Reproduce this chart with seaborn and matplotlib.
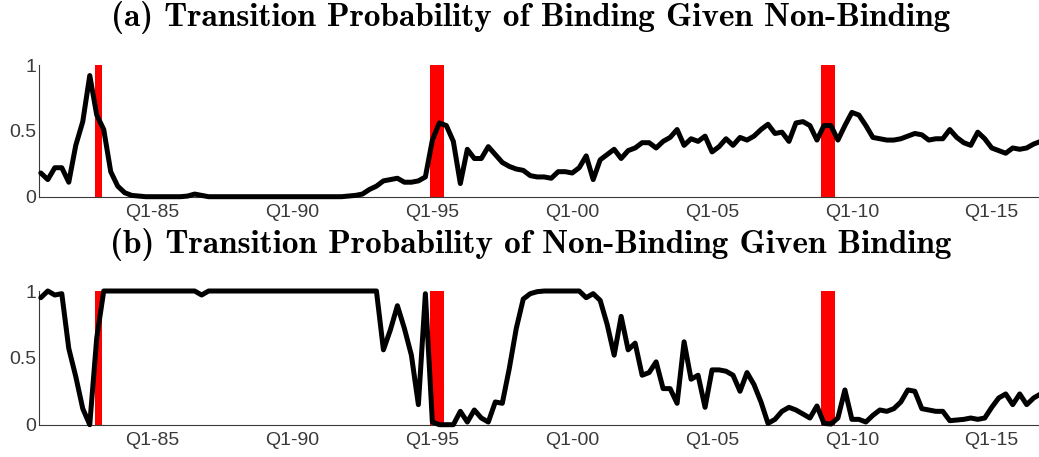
import numpy as np
import pandas as pd
import matplotlib
matplotlib.use("Agg")
import matplotlib.pyplot as plt
import seaborn as sns

# ---- data ----
quarters = pd.period_range("1981Q1", "2016Q4", freq="Q")

binding_given_nonbinding = [
    0.18, 0.13, 0.22, 0.22,   # 1981
    0.11, 0.39, 0.57, 0.92,   # 1982
    0.62, 0.51, 0.19, 0.08,   # 1983
    0.03, 0.01, 0.005, 0.0,   # 1984
    0.0, 0.0, 0.0, 0.0,       # 1985
    0.0, 0.005, 0.02, 0.01,   # 1986
    0.0, 0.0, 0.0, 0.0,       # 1987
    0.0, 0.0, 0.0, 0.0,       # 1988
    0.0, 0.0, 0.0, 0.0,       # 1989
    0.0, 0.0, 0.0, 0.0,       # 1990
    0.0, 0.0, 0.0, 0.0,       # 1991
    0.005, 0.01, 0.02, 0.055, # 1992
    0.08, 0.12, 0.13, 0.14,   # 1993
    0.11, 0.11, 0.12, 0.15,   # 1994
    0.43, 0.56, 0.54, 0.42,   # 1995
    0.10, 0.36, 0.29, 0.29,   # 1996
    0.38, 0.32, 0.26, 0.23,   # 1997
    0.21, 0.20, 0.16, 0.15,   # 1998
    0.15, 0.14, 0.19, 0.19,   # 1999
    0.18, 0.22, 0.31, 0.13,   # 2000
    0.28, 0.32, 0.36, 0.29,   # 2001
    0.35, 0.37, 0.41, 0.41,   # 2002
    0.37, 0.42, 0.45, 0.51,   # 2003
    0.39, 0.44, 0.42, 0.46,   # 2004
    0.34, 0.38, 0.44, 0.39,   # 2005
    0.45, 0.43, 0.46, 0.51,   # 2006
    0.55, 0.48, 0.49, 0.42,   # 2007
    0.56, 0.57, 0.54, 0.43,   # 2008
    0.54, 0.54, 0.43, 0.54,   # 2009
    0.64, 0.62, 0.54, 0.45,   # 2010
    0.44, 0.43, 0.43, 0.44,   # 2011
    0.46, 0.48, 0.47, 0.43,   # 2012
    0.44, 0.44, 0.51, 0.45,   # 2013
    0.41, 0.39, 0.49, 0.44,   # 2014
    0.37, 0.35, 0.33, 0.37,   # 2015
    0.36, 0.37, 0.40, 0.42,   # 2016
]

nonbinding_given_binding = [
    0.95, 1.0, 0.97, 0.98,    # 1981
    0.57, 0.36, 0.12, 0.0,    # 1982
    0.65, 1.0, 1.0, 1.0,      # 1983
    1.0, 1.0, 1.0, 1.0,       # 1984
    1.0, 1.0, 1.0, 1.0,       # 1985
    1.0, 1.0, 1.0, 0.97,      # 1986
    1.0, 1.0, 1.0, 1.0,       # 1987
    1.0, 1.0, 1.0, 1.0,       # 1988
    1.0, 1.0, 1.0, 1.0,       # 1989
    1.0, 1.0, 1.0, 1.0,       # 1990
    1.0, 1.0, 1.0, 1.0,       # 1991
    1.0, 1.0, 1.0, 1.0,       # 1992
    1.0, 0.56, 0.71, 0.89,    # 1993
    0.72, 0.52, 0.15, 0.98,   # 1994
    0.02, 0.0, 0.0, 0.0,      # 1995
    0.10, 0.02, 0.11, 0.05,   # 1996
    0.02, 0.17, 0.16, 0.42,   # 1997
    0.72, 0.94, 0.98, 0.995,  # 1998
    1.0, 1.0, 1.0, 1.0,       # 1999
    1.0, 1.0, 0.95, 0.98,     # 2000
    0.93, 0.75, 0.52, 0.81,   # 2001
    0.56, 0.61, 0.37, 0.39,   # 2002
    0.47, 0.27, 0.27, 0.16,   # 2003
    0.62, 0.34, 0.37, 0.13,   # 2004
    0.41, 0.41, 0.40, 0.37,   # 2005
    0.25, 0.39, 0.30, 0.17,   # 2006
    0.01, 0.04, 0.10, 0.13,   # 2007
    0.11, 0.08, 0.05, 0.14,   # 2008
    0.01, 0.005, 0.05, 0.26,  # 2009
    0.04, 0.04, 0.02, 0.07,   # 2010
    0.11, 0.10, 0.12, 0.17,   # 2011
    0.26, 0.25, 0.12, 0.11,   # 2012
    0.10, 0.10, 0.03, 0.035,  # 2013
    0.04, 0.05, 0.04, 0.05,   # 2014
    0.13, 0.20, 0.23, 0.15,   # 2015
    0.23, 0.15, 0.20, 0.23,   # 2016
]

recession_start = [1982.92, 1994.92, 2008.89]
recession_end = [1983.18, 1995.41, 2009.39]

tick_years = list(range(1981, 2017))
label_years = [1985, 1990, 1995, 2000, 2005, 2010, 2015]
tick_labels = ["Q1-85", "Q1-90", "Q1-95", "Q1-00", "Q1-05", "Q1-10", "Q1-15"]

titles = [
    "(a) Transition Probability of Binding Given Non-Binding",
    "(b) Transition Probability of Non-Binding Given Binding",
]

# ---- plot ----
sns.set_style("white")
plt.rcParams["font.family"] = ["Liberation Sans", "DejaVu Sans"]

decimal_year = quarters.year + (quarters.quarter - 1) / 4.0
df = pd.DataFrame({
    "t": decimal_year,
    "a": binding_given_nonbinding,
    "b": nonbinding_given_binding,
})

W, H = 1039, 457
fig = plt.figure(figsize=(W / 100, H / 100), dpi=100)
left = 39.3 / W
ax_a = fig.add_axes([left, 1 - 196.7 / H, 1 - left, (196.7 - 65) / H])
ax_b = fig.add_axes([left, 1 - 424.7 / H, 1 - left, (424.7 - 291) / H])

gray = "#3a3a3a"
for ax, col in [(ax_a, "a"), (ax_b, "b")]:
    for s, e in zip(recession_start, recession_end):
        ax.axvspan(s, e, ymin=0, ymax=1, color="#ff0000", lw=0, zorder=1)
    sns.lineplot(data=df, x="t", y=col, ax=ax, color="black", lw=3.6,
                 zorder=3, clip_on=False, solid_joinstyle="round",
                 solid_capstyle="round")
    ax.set_xlim(1980.946, 2016.69)
    ax.set_ylim(0, 1)
    ax.set_xlabel("")
    ax.set_ylabel("")
    ax.set_xticks(tick_years)
    ax.set_xticklabels([tick_labels[label_years.index(y)] if y in label_years else ""
                        for y in tick_years])
    ax.set_yticks([0, 0.5, 1])
    ax.set_yticklabels(["0", "0.5", "1"])
    ax.tick_params(axis="both", direction="in", length=6.5, width=0.8,
                   colors=gray, labelsize=14, labelcolor=gray)
    ax.tick_params(axis="x", pad=5)
    ax.tick_params(axis="y", pad=2)
    for sp in ["top", "right"]:
        ax.spines[sp].set_visible(False)
    for sp in ["left", "bottom"]:
        ax.spines[sp].set_color(gray)
        ax.spines[sp].set_linewidth(0.8)
    ax.set_facecolor("white")

fig.text(530.5 / W, 1 - 26 / H, titles[0], ha="center", va="baseline",
         fontsize=24, fontfamily="cmb10", color="black")
fig.text(530.5 / W, 1 - 252.7 / H, titles[1], ha="center", va="baseline",
         fontsize=24, fontfamily="cmb10", color="black")

fig.savefig("out.png", dpi=100, facecolor="white")
